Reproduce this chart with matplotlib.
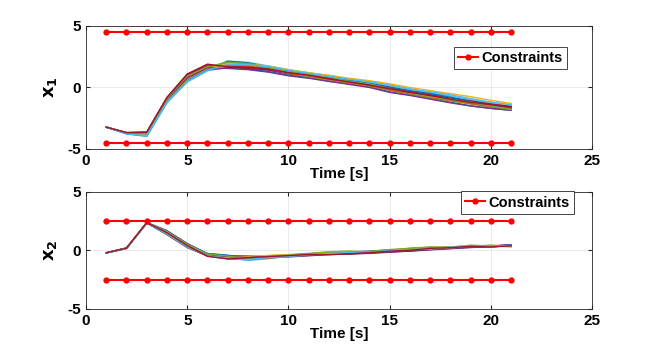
import matplotlib.pyplot as plt
import numpy as np

plt.rcParams['font.family'] = ['Liberation Sans', 'DejaVu Sans']
plt.rcParams['font.weight'] = 'bold'
plt.rcParams['axes.unicode_minus'] = False

t = np.arange(1, 22)

# state trajectories (one row per run)
x1_runs = [
    [-3.22, -3.75, -3.95, -1.2, 0.5, 1.4, 1.6, 1.5, 1.3, 1.0, 0.8, 0.5, 0.3, 0.05, -0.35, -0.6, -0.9, -1.2, -1.5, -1.7, -1.85],
    [-3.23, -3.7, -3.7, -0.9, 0.9, 1.7, 1.9, 1.8, 1.6, 1.3, 1.0, 0.8, 0.55, 0.3, 0.0, -0.3, -0.55, -0.8, -1.05, -1.3, -1.5],
    [-3.2, -3.72, -3.8, -1.0, 0.8, 1.6, 2.0, 1.95, 1.7, 1.4, 1.15, 0.9, 0.6, 0.4, 0.1, -0.2, -0.45, -0.75, -1.0, -1.2, -1.45],
    [-3.24, -3.68, -3.65, -0.85, 1.0, 1.75, 1.7, 1.6, 1.4, 1.1, 0.9, 0.7, 0.45, 0.2, -0.15, -0.4, -0.7, -1.0, -1.25, -1.45, -1.6],
    [-3.21, -3.74, -3.85, -1.1, 0.6, 1.5, 1.8, 1.75, 1.5, 1.2, 0.85, 0.55, 0.3, 0.1, -0.25, -0.55, -0.85, -1.1, -1.35, -1.6, -1.75],
    [-3.23, -3.78, -3.98, -1.25, 0.45, 1.35, 2.1, 2.05, 1.75, 1.45, 1.2, 0.95, 0.7, 0.5, 0.2, -0.1, -0.4, -0.7, -1.0, -1.3, -1.65],
    [-3.22, -3.66, -3.62, -0.8, 1.1, 1.9, 1.65, 1.55, 1.45, 1.25, 1.05, 0.75, 0.5, 0.25, -0.05, -0.35, -0.6, -0.85, -1.1, -1.35, -1.55],
    [-3.21, -3.76, -3.9, -1.15, 0.55, 1.45, 2.15, 2.0, 1.65, 1.35, 1.1, 0.85, 0.6, 0.35, 0.05, -0.25, -0.5, -0.8, -1.15, -1.4, -1.7],
    [-3.24, -3.69, -3.68, -0.95, 0.85, 1.65, 1.75, 1.7, 1.55, 1.15, 0.95, 0.65, 0.4, 0.15, -0.2, -0.5, -0.8, -1.05, -1.3, -1.55, -1.75],
    [-3.2, -3.73, -3.82, -1.05, 0.7, 1.55, 1.95, 1.9, 1.75, 1.45, 1.2, 1.0, 0.75, 0.55, 0.3, 0.0, -0.25, -0.5, -0.75, -1.05, -1.3],
    [-3.23, -3.71, -3.75, -0.98, 0.75, 1.6, 1.55, 1.45, 1.25, 0.95, 0.75, 0.5, 0.25, 0.0, -0.4, -0.65, -0.95, -1.25, -1.5, -1.7, -1.85],
    [-3.22, -3.7, -3.72, -0.92, 0.95, 1.7, 2.05, 1.95, 1.6, 1.3, 1.05, 0.85, 0.5, 0.3, -0.1, -0.45, -0.75, -1.0, -1.2, -1.5, -1.8],
    [-3.21, -3.77, -3.92, -1.2, 0.5, 1.4, 1.85, 1.85, 1.7, 1.4, 1.15, 0.9, 0.65, 0.45, 0.15, -0.15, -0.35, -0.6, -0.9, -1.2, -1.4],
    [-3.22, -3.67, -3.64, -0.82, 1.05, 1.85, 1.7, 1.65, 1.5, 1.2, 1.0, 0.7, 0.45, 0.2, -0.1, -0.4, -0.65, -0.95, -1.2, -1.4, -1.6],
]

x2_runs = [
    [-0.2, 0.18, 2.35, 1.35, 0.25, -0.45, -0.7, -0.8, -0.65, -0.5, -0.4, -0.3, -0.25, -0.2, -0.1, 0.0, 0.1, 0.2, 0.3, 0.35, 0.4],
    [-0.2, 0.2, 2.38, 1.6, 0.5, -0.3, -0.5, -0.45, -0.5, -0.45, -0.35, -0.2, -0.1, -0.15, 0.0, 0.1, 0.2, 0.25, 0.4, 0.3, 0.45],
    [-0.21, 0.16, 2.32, 1.5, 0.4, -0.35, -0.6, -0.7, -0.55, -0.4, -0.3, -0.25, -0.15, -0.1, 0.05, 0.15, 0.25, 0.3, 0.35, 0.4, 0.35],
    [-0.19, 0.22, 2.4, 1.7, 0.6, -0.28, -0.45, -0.5, -0.6, -0.55, -0.45, -0.35, -0.3, -0.25, -0.15, -0.05, 0.05, 0.15, 0.25, 0.35, 0.5],
    [-0.2, 0.17, 2.34, 1.45, 0.35, -0.4, -0.65, -0.6, -0.45, -0.35, -0.25, -0.1, -0.05, -0.1, 0.0, 0.2, 0.3, 0.25, 0.35, 0.45, 0.4],
    [-0.2, 0.19, 2.36, 1.55, 0.45, -0.32, -0.55, -0.85, -0.7, -0.5, -0.4, -0.3, -0.2, -0.15, -0.05, 0.05, 0.15, 0.2, 0.45, 0.4, 0.3],
    [-0.2, 0.21, 2.37, 1.4, 0.3, -0.48, -0.7, -0.55, -0.5, -0.45, -0.35, -0.25, -0.3, -0.2, -0.1, -0.05, 0.1, 0.3, 0.35, 0.3, 0.45],
    [-0.21, 0.18, 2.33, 1.65, 0.55, -0.25, -0.4, -0.65, -0.6, -0.4, -0.3, -0.2, -0.15, -0.05, 0.05, 0.1, 0.2, 0.3, 0.4, 0.35, 0.5],
    [-0.2, 0.2, 2.39, 1.38, 0.28, -0.42, -0.62, -0.75, -0.65, -0.5, -0.38, -0.28, -0.2, -0.18, -0.08, 0.05, 0.15, 0.25, 0.3, 0.4, 0.42],
    [-0.19, 0.17, 2.35, 1.58, 0.48, -0.36, -0.58, -0.5, -0.42, -0.38, -0.32, -0.15, -0.1, -0.12, 0.02, 0.12, 0.22, 0.3, 0.45, 0.35, 0.38],
    [-0.2, 0.19, 2.36, 1.48, 0.38, -0.38, -0.52, -0.6, -0.55, -0.48, -0.42, -0.32, -0.22, -0.2, -0.12, 0.0, 0.1, 0.18, 0.28, 0.38, 0.48],
    [-0.2, 0.21, 2.37, 1.62, 0.52, -0.3, -0.48, -0.7, -0.5, -0.42, -0.28, -0.18, -0.12, -0.08, 0.08, 0.18, 0.28, 0.22, 0.38, 0.42, 0.36],
    [-0.21, 0.16, 2.34, 1.42, 0.32, -0.45, -0.68, -0.78, -0.6, -0.52, -0.36, -0.26, -0.18, -0.14, -0.02, 0.08, 0.12, 0.28, 0.42, 0.32, 0.44],
    [-0.2, 0.2, 2.38, 1.52, 0.42, -0.5, -0.72, -0.62, -0.52, -0.44, -0.34, -0.36, -0.28, -0.18, -0.06, 0.02, 0.18, 0.24, 0.36, 0.3, 0.4],
]

x1_bound = 4.5
x2_bound = 2.5

colors = ['#0072BD', '#D95319', '#EDB120', '#7E2F8E', '#77AC30', '#4DBEEE', '#A2142F']

fig = plt.figure(figsize=(6.54, 3.59), dpi=100)
ax1 = fig.add_axes([0.1315, 0.585, 0.774, 0.3426])
ax2 = fig.add_axes([0.1315, 0.1393, 0.774, 0.3259])

panels = [(ax1, x1_runs, x1_bound, r'$\mathbf{x_1}$', (0.838, 0.74), -0.2),
          (ax2, x2_runs, x2_bound, r'$\mathbf{x_2}$', (0.852, 0.91), -0.21)]

for ax, runs, bound, ylab, legpos, xlab_y in panels:
    for i, run in enumerate(runs):
        ax.plot(t, run, color=colors[i % 7], lw=1.0)
    ones = np.ones(len(t))
    ax.plot(t, bound * ones, '-o', color='red', lw=1.5, ms=3.5,
            mfc='red', label='Constraints')
    ax.plot(t, -bound * ones, '-o', color='red', lw=1.5, ms=3.5, mfc='red')
    ax.set_xlim(0, 25)
    ax.set_ylim(-5, 5)
    ax.set_xticks([0, 5, 10, 15, 20, 25])
    ax.set_yticks([-5, 0, 5])
    ax.grid(True, color='#e6e6e6', lw=0.6)
    ax.set_axisbelow(True)
    ax.tick_params(direction='in', top=True, right=True, labelsize=11,
                   length=3, color='#262626')
    for s in ax.spines.values():
        s.set_color('#262626')
        s.set_linewidth(0.6)
    ax.set_xlabel('Time [s]', fontsize=11, fontweight='bold')
    ax.xaxis.set_label_coords(0.5, xlab_y)
    ax.xaxis.label.set_va('center')
    ax.set_ylabel(ylab, fontsize=13)
    ax.yaxis.set_label_coords(-0.071, 0.5)
    ax.yaxis.label.set_va('center')
    leg = ax.legend(loc='center', bbox_to_anchor=legpos, fontsize=10.5,
                    fancybox=False, framealpha=1, edgecolor='#262626',
                    handlelength=1.4, borderpad=0.3, handletextpad=0.2,
                    borderaxespad=0)
    leg.get_frame().set_linewidth(0.6)

fig.savefig('out.png', dpi=100)
